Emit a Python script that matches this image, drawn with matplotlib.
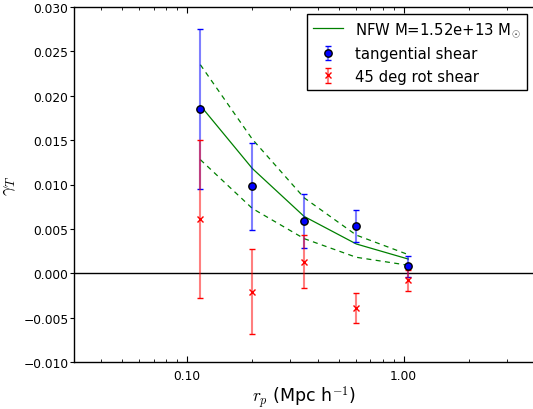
import matplotlib
matplotlib.use('Agg')
import matplotlib.pyplot as plt
from matplotlib.ticker import FormatStrFormatter, FuncFormatter, NullFormatter, MultipleLocator

plt.rcParams['mathtext.fontset'] = 'cm'

# radial bins (Mpc/h)
rp = [0.115, 0.200, 0.347, 0.604, 1.05]

# tangential shear + errors
gt = [0.0185, 0.0098, 0.0059, 0.0053, 0.0008]
gt_err = [0.0090, 0.0049, 0.0030, 0.0018, 0.0012]

# 45 deg rotated shear + errors
gx = [0.0061, -0.0021, 0.0013, -0.0039, -0.0008]
gx_err = [0.0089, 0.0048, 0.0030, 0.0017, 0.0012]

# NFW fit and its band
nfw = [0.0189, 0.0118, 0.0064, 0.0033, 0.0016]
nfw_hi = [0.0235, 0.0151, 0.0085, 0.0043, 0.0021]
nfw_lo = [0.0128, 0.0073, 0.0039, 0.0018, 0.0009]

fig = plt.figure(figsize=(5.33, 4.10), dpi=100)
ax = fig.add_axes([74/533., 47/410., 460/533., 355/410.])

ax.axhline(0, color='black', lw=1)

ax.plot(rp, nfw, color='green', lw=0.9, label=r'NFW M=1.52e+13 M$_{\odot}$')
ax.plot(rp, nfw_hi, color='green', lw=0.9, ls=(0, (4, 3.5)))
ax.plot(rp, nfw_lo, color='green', lw=0.9, ls=(0, (4, 3.5)))

eb1 = ax.errorbar(rp, gt, yerr=gt_err, fmt='o', color='blue', mfc='blue', mec='black',
                  mew=1, ms=5.3, capsize=2.4, elinewidth=1.5, label='tangential shear')
eb2 = ax.errorbar(rp, gx, yerr=gx_err, fmt='x', color='red', ms=4.5, mew=1,
                  capsize=2.4, elinewidth=1.5, label='45 deg rot shear')
for eb in (eb1, eb2):
    for lc in eb[2]:
        lc.set_alpha(0.5)

ax.set_xscale('log')
ax.set_xlim(0.03, 4.0)
ax.set_ylim(-0.010, 0.030)
ax.yaxis.set_major_locator(MultipleLocator(0.005))
ax.yaxis.set_major_formatter(FuncFormatter(lambda v, p: ('%.3f' % v).replace('-', '\u2212')))
ax.xaxis.set_major_formatter(FormatStrFormatter('%.2f'))
ax.xaxis.set_minor_formatter(NullFormatter())

ax.tick_params(axis='x', which='both', direction='in', top=True, labelsize=8.8, pad=5)
ax.tick_params(axis='x', which='major', length=4)
ax.tick_params(axis='x', which='minor', length=2)
ax.tick_params(axis='y', which='major', direction='in', right=True, length=4, labelsize=8.8)
ax.tick_params(axis='y', which='major', left=True, direction='out', length=3, pad=1)

for s in ax.spines.values():
    s.set_linewidth(1)

ax.set_xlabel(r'$r_p$ (Mpc h$^{\mathsf{-1}}$)', fontsize=12.5, labelpad=1)
ax.set_ylabel(r'$\gamma_T$', fontsize=13, labelpad=4)

leg = ax.legend(loc='upper right', numpoints=1, fontsize=10.7, fancybox=False,
                framealpha=1, edgecolor='black')
leg.get_frame().set_linewidth(1)

fig.savefig('out.png', dpi=100)
